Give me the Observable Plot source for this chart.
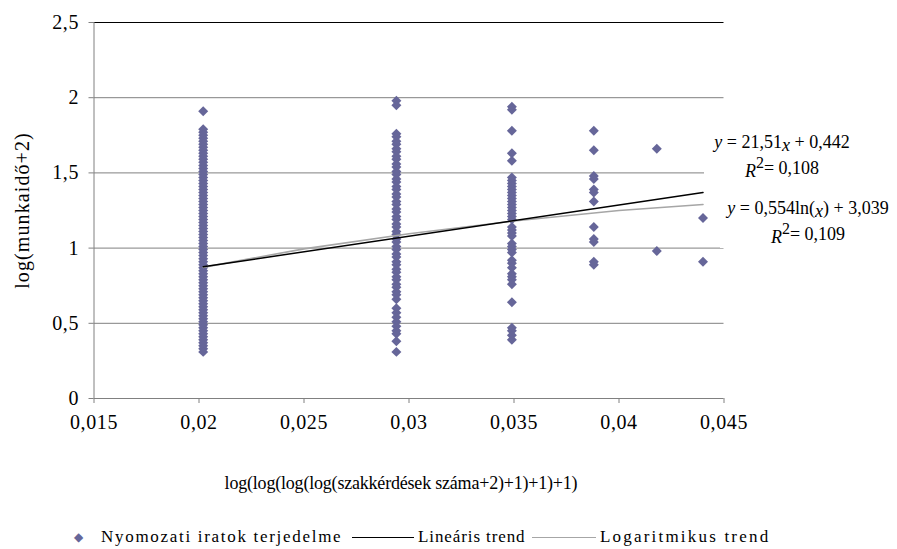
<!DOCTYPE html>
<html><head><meta charset="utf-8">
<script src="https://cdn.jsdelivr.net/npm/d3@7"></script>
<script src="https://cdn.jsdelivr.net/npm/@observablehq/plot@0.6"></script>
<style>
body{margin:0;background:#fff;}
#wrap{position:relative;width:897px;height:549px;font-family:'Liberation Serif','Times New Roman',serif;color:#000;background:#fff;}
#wrap svg text{font-family:'Liberation Serif','Times New Roman',serif;}
#wrap svg g[aria-label="y-axis tick label"] text,
#wrap svg g[aria-label="x-axis tick label"] text{letter-spacing:0.6px;}
#wrap svg g.ylab text{letter-spacing:1.1px;}
#wrap svg g.xlab text{letter-spacing:-0.2px;}
.eq{position:absolute;background:#fff;font-size:18px;line-height:26px;text-align:center;white-space:nowrap;}
.it{font-style:italic;}
.low{position:relative;top:3px;}
.sup{position:relative;top:-6px;font-size:16px;}
.leg{position:absolute;font-size:17px;white-space:nowrap;line-height:20px;letter-spacing:1.7px;}
.ln{position:absolute;height:0;}
</style></head><body><div id="wrap"></div>
<script>
// x positions of the point columns
const columnX = [0.0202, 0.0294, 0.0349, 0.0388, 0.0418, 0.0440];
// y values per column
const col1 = [1.91, 1.79, 1.77, 1.75, 1.73, 1.71, 1.69, 1.67, 1.65, 1.63, 1.61, 1.59, 1.57, 1.55, 1.53, 1.51, 1.49, 1.47, 1.45, 1.43, 1.41, 1.39, 1.37, 1.35, 1.33, 1.31, 1.29, 1.27, 1.25, 1.23, 1.21, 1.19, 1.17, 1.15, 1.13, 1.11, 1.09, 1.07, 1.05, 1.03, 1.01, 0.99, 0.97, 0.95, 0.93, 0.91, 0.89, 0.87, 0.85, 0.83, 0.81, 0.79, 0.77, 0.75, 0.73, 0.71, 0.69, 0.67, 0.65, 0.63, 0.61, 0.59, 0.57, 0.55, 0.53, 0.51, 0.49, 0.47, 0.45, 0.43, 0.41, 0.39, 0.37, 0.35, 0.33, 0.31];
const col2 = [1.98, 1.95, 1.76, 1.74, 1.71, 1.69, 1.66, 1.64, 1.61, 1.59, 1.56, 1.54, 1.51, 1.49, 1.46, 1.44, 1.41, 1.39, 1.36, 1.34, 1.31, 1.29, 1.26, 1.24, 1.21, 1.19, 1.16, 1.14, 1.11, 1.09, 1.06, 1.04, 1.01, 0.99, 0.96, 0.94, 0.91, 0.89, 0.86, 0.84, 0.81, 0.79, 0.76, 0.74, 0.71, 0.69, 0.66, 0.60, 0.57, 0.54, 0.51, 0.48, 0.45, 0.43, 0.38, 0.31];
const col3 = [1.94, 1.92, 1.78, 1.63, 1.58, 1.47, 1.45, 1.43, 1.41, 1.39, 1.37, 1.35, 1.33, 1.31, 1.29, 1.27, 1.25, 1.23, 1.21, 1.19, 1.14, 1.12, 1.10, 1.08, 1.03, 1.01, 0.99, 0.97, 0.92, 0.90, 0.87, 0.83, 0.81, 0.79, 0.76, 0.64, 0.47, 0.45, 0.42, 0.39];
const col4 = [1.78, 1.65, 1.48, 1.46, 1.39, 1.37, 1.31, 1.14, 1.06, 1.04, 0.91, 0.89];
const col5 = [1.66, 0.98];
const col6 = [1.20, 0.91];
// trend lines
const linearX = [0.0202, 0.0440];
const linearY = [0.876, 1.37];
const logX = [0.0202, 0.025, 0.030, 0.035, 0.040, 0.044];
const logY = [0.872, 0.995, 1.095, 1.18, 1.25, 1.29];
// ticks
const xTicks = [0.015, 0.02, 0.025, 0.03, 0.035, 0.04, 0.045];
const yTicks = [0, 0.5, 1, 1.5, 2, 2.5];
const gridY = [0.5, 1, 1.5, 2];
const xLabel = "log(log(log(log(szakkérdések száma+2)+1)+1)+1)";
const yLabel = "log(munkaidő+2)";

const columns = [col1, col2, col3, col4, col5, col6];
const points = columns.flatMap((ys, i) => ys.map(y => ({x: columnX[i], y})));
const linear = linearX.map((x, i) => ({x, y: linearY[i]}));
const logT = logX.map((x, i) => ({x, y: logY[i]}));
const fmt = d => String(d).replace(".", ",");
const serif = "'Liberation Serif', 'Times New Roman', serif";

const chart = Plot.plot({
  width: 897, height: 505,
  marginLeft: 93.5, marginRight: 173.5, marginTop: 22, marginBottom: 107,
  style: {fontFamily: serif, fontSize: "17px", background: "white", color: "black", overflow: "visible"},
  x: {domain: [0.015, 0.045]},
  y: {domain: [0, 2.5]},
  marks: [
    Plot.ruleY(gridY, {stroke: "#808080", strokeWidth: 1}),
    Plot.ruleY([2.5], {stroke: "#000", strokeWidth: 1}),
    Plot.ruleX([0.015], {stroke: "#808080", strokeWidth: 1}),
    Plot.ruleY([0], {stroke: "#808080", strokeWidth: 1}),
    Plot.axisY({ticks: yTicks, tickFormat: fmt, tickSize: 5, tickPadding: 10, stroke: "#808080", label: null, fontSize: 20}),
    Plot.axisX({ticks: xTicks, tickFormat: fmt, tickSize: 5, tickPadding: 11, stroke: "#808080", label: null, fontSize: 20}),
    Plot.dot(points, {x: "x", y: "y", symbol: "diamond2", r: 4.5, fill: "#666699", stroke: "none"}),
    Plot.line(logT, {x: "x", y: "y", stroke: "#a6a6a6", strokeWidth: 1.6}),
    Plot.line(linear, {x: "x", y: "y", stroke: "#000", strokeWidth: 1.5}),
    Plot.text([yLabel], {text: d => d, frameAnchor: "left", rotate: -90, dx: -71.5, textAnchor: "middle", lineAnchor: "middle", fontSize: 20, className: "ylab"}),
    Plot.text([xLabel], {text: d => d, frameAnchor: "bottom", dy: 85, dx: -8, textAnchor: "middle", lineAnchor: "middle", fontSize: 18, className: "xlab"})
  ]
});
const wrap = document.getElementById("wrap");
wrap.appendChild(chart);

wrap.insertAdjacentHTML("beforeend", `
<div class="eq" style="left:704px;top:129px;width:156px;">
  <div><span class="it">y</span> = 21,51<span class="it low">x</span> + 0,442</div>
  <div><span class="it low">R</span><span class="sup">2</span>= 0,108</div>
</div>
<div class="eq" style="left:720px;top:195px;width:176px;">
  <div><span class="it">y</span> = 0,554ln(<span class="it low">x</span>) + 3,039</div>
  <div><span class="it low">R</span><span class="sup">2</span>= 0,109</div>
</div>
<div class="leg" style="left:74px;top:527px;color:#666699;font-size:12px;">&#9670;</div>
<div class="leg" style="left:101px;top:527px;">Nyomozati iratok terjedelme</div>
<div class="ln" style="left:352px;top:537px;width:62px;border-top:1.5px solid #000;"></div>
<div class="leg" style="left:418px;top:527px;letter-spacing:0.9px;">Lineáris trend</div>
<div class="ln" style="left:532px;top:537px;width:64px;border-top:1.5px solid #a6a6a6;"></div>
<div class="leg" style="left:600px;top:527px;letter-spacing:2.2px;">Logaritmikus trend</div>
`);
</script></body></html>
